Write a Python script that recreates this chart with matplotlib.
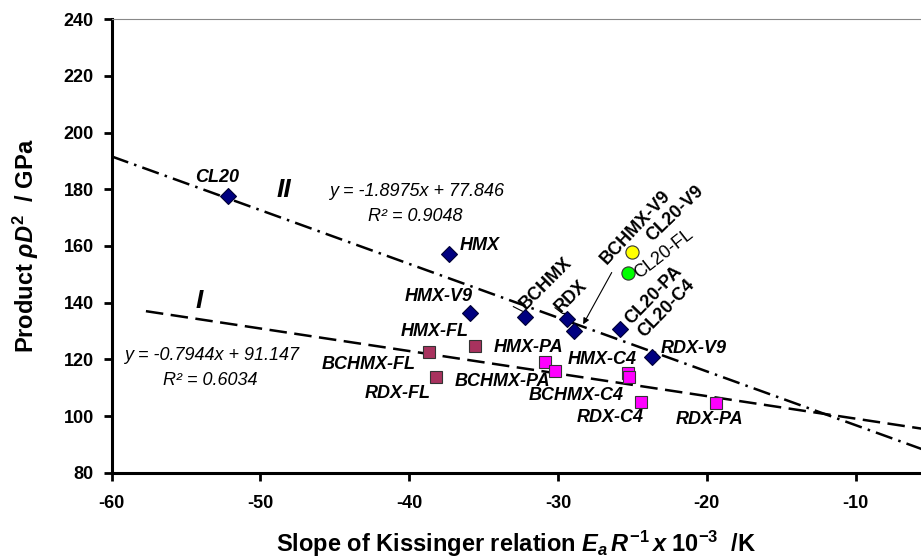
import matplotlib
matplotlib.use("Agg")
from matplotlib import pyplot as plt

plt.rcParams['font.family'] = ['Liberation Sans', 'DejaVu Sans']
plt.rcParams['axes.unicode_minus'] = False
plt.rcParams['mathtext.fontset'] = 'custom'
plt.rcParams['mathtext.it'] = 'Liberation Sans:bold:italic'
plt.rcParams['mathtext.rm'] = 'Liberation Sans:bold'
plt.rcParams['mathtext.bf'] = 'Liberation Sans:bold'

# pure explosives (diamonds)
pure_names = ["CL20", "HMX", "HMX-V9", "BCHMX", "RDX", "BCHMX-V9", "CL20-PA", "RDX-V9"]
pure_x = [-52.2, -37.3, -35.9, -32.2, -29.4, -28.9, -25.8, -23.7]
pure_y = [177.6, 157.2, 136.2, 134.8, 134.1, 130.0, 130.8, 120.8]

# FL mixtures (maroon squares)
fl_names = ["BCHMX-FL", "HMX-FL", "RDX-FL"]
fl_x = [-38.7, -35.6, -38.2]
fl_y = [122.5, 124.7, 113.9]

# PA / C4 mixtures (magenta squares)
pa_names = ["HMX-PA", "BCHMX-PA", "HMX-C4", "BCHMX-C4", "RDX-C4", "RDX-PA"]
pa_x = [-30.9, -30.2, -25.3, -25.2, -24.4, -19.4]
pa_y = [119.0, 115.8, 115.3, 113.7, 104.9, 104.5]

# CL20 mixtures (circles)
cl20v9 = (-25.0, 157.9)
cl20fl = (-25.3, 150.6)

# trend lines (end points)
line1_x = [-57.7, -5.0]
line1_y = [137.0, 95.1]
line2_x = [-60.0, -5.0]
line2_y = [191.6, 87.3]

xticks = [-60, -50, -40, -30, -20, -10]
xtick_labels = ["-60", "-50", "-40", "-30", "-20", "-10"]
yticks = [80, 100, 120, 140, 160, 180, 200, 220, 240]
ytick_labels = ["80", "100", "120", "140", "160", "180", "200", "220", "240"]


def main():
    fig = plt.figure(figsize=(9.21, 5.59), dpi=100)
    ax = fig.add_axes([0.1213, 0.1544, 0.8787, 0.8111])

    ax.plot(line2_x, line2_y, color='black', lw=1.8, dashes=(7, 2.5, 1, 2.5), zorder=2)
    ax.plot(line1_x, line1_y, color='black', lw=1.8, dashes=(7, 3), zorder=2)

    ax.plot(pure_x, pure_y, 'D', ms=8.3, mfc='#000080', mec='#000033', mew=0.8, ls='none', zorder=3)
    ax.plot(fl_x, fl_y, 's', ms=9, mfc='#A8325E', mec='#333333', mew=0.8, ls='none', zorder=3)
    ax.plot(pa_x, pa_y, 's', ms=9, mfc='#FF00FF', mec='#333333', mew=0.8, ls='none', zorder=3)
    ax.plot(*cl20v9, 'o', ms=9.5, mfc='#FFFF00', mec='#333333', mew=0.8, zorder=3)
    ax.plot(*cl20fl, 'o', ms=9.5, mfc='#00FF00', mec='#333333', mew=0.8, zorder=3)

    lab = dict(fontsize=13, fontweight='bold', fontstyle='italic', ha='center', va='center')
    ax.text(-52.9, 184.3, "CL20", **lab)
    ax.text(-36.6, 160.3, "HMX", ha='left', va='center', fontsize=13,
            fontweight='bold', fontstyle='italic')
    ax.text(-38.0, 142.1, "HMX-V9", **lab)
    ax.text(-38.3, 129.8, "HMX-FL", **lab)
    ax.text(-42.7, 118.3, "BCHMX-FL", **lab)
    ax.text(-40.8, 107.8, "RDX-FL", **lab)
    ax.text(-32.0, 124.3, "HMX-PA", **lab)
    ax.text(-33.75, 112.1, "BCHMX-PA", **lab)
    ax.text(-27.0, 119.8, "HMX-C4", **lab)
    ax.text(-28.75, 107.3, "BCHMX-C4", **lab)
    ax.text(-26.5, 99.3, "RDX-C4", **lab)
    ax.text(-19.8, 98.6, "RDX-PA", **lab)
    ax.text(-20.9, 123.9, "RDX-V9", **lab)

    rot = dict(fontsize=13, fontweight='bold', ha='center', va='center',
               rotation_mode='anchor')
    ax.text(-30.8, 146.8, "BCHMX", rotation=45, **rot)
    ax.text(-29.1, 142.1, "RDX", rotation=45, **rot)
    ax.text(-24.8, 166.4, "BCHMX-V9", rotation=47, **rot)
    ax.text(-22.1, 171.3, "CL20-V9", rotation=44, **rot)
    ax.text(-23.55, 142.6, "CL20-PA", rotation=46, **rot)
    ax.text(-22.7, 138.1, "CL20-C4", rotation=46, **rot)
    ax.text(-22.9, 157.1, "CL20-FL", rotation=38, fontsize=13, ha='center',
            va='center', rotation_mode='anchor')

    ax.plot([-33.0, -32.4], [138.6, 137.0], color='black', lw=0.8)
    ax.plot([-30.2, -29.7, -29.4], [138.2, 136.2, 136.2], color='black', lw=0.8)
    ax.annotate("", xy=(-28.4, 131.5), xytext=(-26.3, 151.5),
                arrowprops=dict(arrowstyle='-|>', color='black', lw=0.8,
                                mutation_scale=9))

    ax.text(-48.4, 179.7, "II", fontsize=19, fontweight='bold', fontstyle='italic',
            ha='center', va='center')
    ax.text(-54.1, 140.5, "I", fontsize=19, fontweight='bold', fontstyle='italic',
            ha='center', va='center')
    eq = dict(fontsize=13, fontstyle='italic', ha='center', va='center')
    ax.text(-39.5, 179.1, "y = -1.8975x + 77.846", **eq)
    ax.text(-39.6, 170.3, "R² = 0.9048", **eq)
    ax.text(-53.3, 121.5, "y = -0.7944x + 91.147", **eq)
    ax.text(-53.4, 112.7, "R² = 0.6034", **eq)

    ax.set_xlim(-60, -5.6)
    ax.set_ylim(80, 240)
    ax.set_xticks(xticks)
    ax.set_xticklabels(xtick_labels, fontsize=13, fontweight='bold')
    ax.set_yticks(yticks)
    ax.set_yticklabels(ytick_labels, fontsize=13, fontweight='bold')
    ax.tick_params(width=2, length=6, direction='out')
    ax.tick_params(axis='x', pad=10)
    ax.tick_params(axis='y', pad=7)
    ax.spines['right'].set_visible(False)
    ax.spines['top'].set_color('#888888')
    ax.spines['top'].set_linewidth(0.8)
    for s in ['left', 'bottom']:
        ax.spines[s].set_linewidth(2.2)

    ax.set_xlabel(r"Slope of Kissinger relation $E_a\,R^{\mathit{-1}}\,x\;\mathit{10}^{\mathit{-3}}$  /K",
                  fontsize=17, fontweight='bold', labelpad=12)
    ax.set_ylabel(r"Product $\rho D^2$  / GPa", fontsize=17, fontweight='bold',
                  labelpad=16)

    fig.savefig("out.png", dpi=100)


if __name__ == '__main__':
    main()
